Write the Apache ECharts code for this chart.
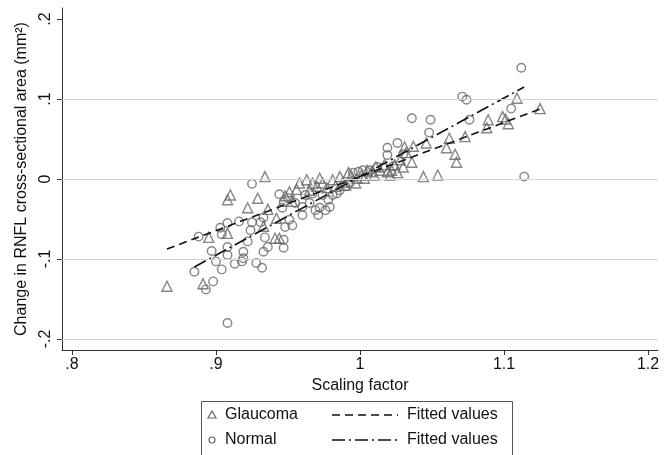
<!DOCTYPE html>
<html>
<head>
<meta charset="utf-8">
<script src="https://cdn.jsdelivr.net/npm/echarts@6/dist/echarts.min.js"></script>
<style>
  html, body { margin: 0; padding: 0; background: #fff; }
  #chart { width: 665px; height: 455px; }
</style>
</head>
<body>
<div id="chart"></div>
<script>
// Scaling factor vs change in RNFL cross-sectional area, by group
const xTicks = [0.8, 0.9, 1, 1.1, 1.2];
const yTicks = [-0.2, -0.1, 0, 0.1, 0.2];
const yGridLines = [-0.2, -0.1, 0, 0.1];

const glaucoma = [
  [0.866, -0.134], [0.891, -0.131], [0.895, -0.073], [0.908, -0.026], [0.910, -0.020],
  [0.908, -0.068], [0.922, -0.036], [0.929, -0.024], [0.934, 0.003], [0.936, -0.038],
  [0.933, -0.059], [0.941, -0.074], [0.944, -0.074], [0.942, -0.049], [0.951, -0.016],
  [0.958, -0.005], [0.963, -0.001], [0.967, -0.005], [0.970, -0.009], [0.974, -0.005],
  [0.956, -0.013], [0.948, -0.021], [0.953, -0.028], [0.977, -0.011], [0.981, -0.001],
  [0.983, -0.009], [0.986, 0.003], [0.988, -0.004], [0.992, 0.008], [0.994, 0.004],
  [0.998, 0.001], [1.001, 0.005], [1.005, 0.011], [1.008, 0.009], [1.011, 0.015],
  [1.014, 0.011], [1.017, 0.018], [1.019, 0.009], [1.021, 0.005], [1.022, 0.011],
  [1.026, 0.008], [1.028, 0.024], [1.030, 0.015], [1.031, 0.040], [1.032, 0.033],
  [1.036, 0.021], [1.037, 0.041], [1.044, 0.003], [1.046, 0.045], [1.054, 0.005],
  [1.060, 0.039], [1.062, 0.051], [1.066, 0.031], [1.067, 0.021], [1.073, 0.053],
  [1.088, 0.064], [1.089, 0.074], [1.099, 0.078], [1.101, 0.075], [1.103, 0.069],
  [1.109, 0.101], [1.125, 0.088], [0.965, -0.014], [0.972, 0.001], [0.990, -0.008],
  [0.997, -0.005], [1.003, 0.001], [1.010, 0.005], [1.024, 0.018]
];

const normal = [
  [0.908, -0.180], [0.885, -0.116], [0.893, -0.138], [0.898, -0.128], [0.897, -0.090],
  [0.900, -0.103], [0.904, -0.113], [0.888, -0.072], [0.903, -0.061], [0.908, -0.055],
  [0.904, -0.069], [0.908, -0.085], [0.908, -0.095], [0.916, -0.053], [0.913, -0.106],
  [0.918, -0.103], [0.919, -0.099], [0.922, -0.078], [0.919, -0.091], [0.925, -0.006],
  [0.924, -0.064], [0.925, -0.054], [0.934, -0.073], [0.936, -0.085], [0.933, -0.091],
  [0.928, -0.105], [0.932, -0.111], [0.931, -0.054], [0.933, -0.048], [0.947, -0.076],
  [0.947, -0.086], [0.948, -0.060], [0.953, -0.058], [0.951, -0.051], [0.960, -0.045],
  [0.944, -0.019], [0.947, -0.029], [0.946, -0.036], [0.955, -0.030], [0.960, -0.035],
  [0.965, -0.030], [0.969, -0.039], [0.972, -0.036], [0.976, -0.039], [0.962, -0.020],
  [0.950, -0.024], [0.967, -0.018], [0.974, -0.020], [0.978, -0.026], [0.981, -0.020],
  [0.984, -0.018], [0.986, -0.014], [0.990, -0.009], [0.993, -0.005], [0.995, 0.008],
  [0.999, 0.009], [1.002, 0.011], [1.007, 0.011], [1.012, 0.015], [1.016, 0.014],
  [1.023, 0.016], [1.019, 0.030], [1.019, 0.039], [1.026, 0.045], [1.030, 0.031],
  [1.036, 0.076], [1.049, 0.074], [1.048, 0.058], [1.071, 0.103], [1.074, 0.099],
  [1.076, 0.074], [1.105, 0.088], [1.112, 0.139], [1.114, 0.003], [0.979, -0.035],
  [0.971, -0.045]
];

// Linear fits, evaluated at each group's x range
const glaucomaFit = [[0.866, -0.0875], [1.125, 0.0875]];
const normalFit = [[0.885, -0.110], [1.114, 0.115]];

const FONT = '"Liberation Sans", Arial, Helvetica, sans-serif';
const MARK = '#686868';
const fmt = v => (v === 0 ? '0' : String(v).replace('0.', '.'));

const chart = echarts.init(document.getElementById('chart'), null, { renderer: 'canvas' });

chart.setOption({
  backgroundColor: '#ffffff',
  animation: false,
  grid: { left: 62, right: 7, top: 8, bottom: 105, containLabel: false },
  xAxis: {
    type: 'value',
    min: 0.7931, max: 1.2069,
    name: 'Scaling factor',
    nameLocation: 'middle',
    nameGap: 27,
    nameTextStyle: { fontFamily: FONT, fontSize: 16, color: '#111' },
    axisLine: { show: true, onZero: false, lineStyle: { color: '#333', width: 1 } },
    axisTick: { show: true, length: 5, customValues: xTicks, lineStyle: { color: '#333' } },
    axisLabel: { customValues: xTicks, formatter: fmt, margin: 7, fontFamily: FONT, fontSize: 16, color: '#111' },
    splitLine: { show: false }
  },
  yAxis: {
    type: 'value',
    min: -0.21375, max: 0.21375,
    name: 'Change in RNFL cross-sectional area (mm\u00B2)',
    nameLocation: 'middle',
    nameRotate: 90,
    nameGap: 32,
    nameTextStyle: { fontFamily: FONT, fontSize: 16, color: '#111' },
    axisLine: { show: true, onZero: false, lineStyle: { color: '#333', width: 1 } },
    axisTick: { show: true, length: 5, customValues: yTicks, lineStyle: { color: '#333' } },
    axisLabel: { customValues: yTicks, formatter: fmt, rotate: 90, margin: 8, fontFamily: FONT, fontSize: 16, color: '#111' },
    splitLine: { show: false }
  },
  series: [
    {
      name: 'grid',
      type: 'line',
      data: [],
      silent: true,
      z: 1,
      markLine: {
        silent: true,
        symbol: ['none', 'none'],
        label: { show: false },
        lineStyle: { color: '#d6d6d6', width: 1, type: 'solid' },
        emphasis: { disabled: true },
        data: yGridLines.map(v => ({ yAxis: v }))
      }
    },
    {
      name: 'Glaucoma',
      type: 'scatter',
      symbol: 'triangle',
      symbolSize: 10,
      z: 3,
      itemStyle: { color: 'rgba(0,0,0,0)', borderColor: MARK, borderWidth: 1.4 },
      data: glaucoma
    },
    {
      name: 'Normal',
      type: 'scatter',
      symbol: 'circle',
      symbolSize: 8.5,
      z: 3,
      itemStyle: { color: 'rgba(0,0,0,0)', borderColor: MARK, borderWidth: 1.4 },
      data: normal
    },
    {
      name: 'Fitted values (Glaucoma)',
      type: 'line',
      showSymbol: false,
      z: 4,
      lineStyle: { color: '#111', width: 1.6, type: [8, 5] },
      data: glaucomaFit
    },
    {
      name: 'Fitted values (Normal)',
      type: 'line',
      showSymbol: false,
      z: 4,
      lineStyle: { color: '#111', width: 1.6, type: [13, 4, 2, 4] },
      data: normalFit
    }
  ],
  graphic: [
    {
      type: 'rect',
      shape: { x: 201.5, y: 401.5, width: 311, height: 70 },
      style: { fill: 'none', stroke: '#555', lineWidth: 1 }
    },
    {
      type: 'polygon',
      shape: { points: [[212, 411], [216, 418], [208, 418]] },
      style: { fill: 'none', stroke: MARK, lineWidth: 1.2 }
    },
    {
      type: 'circle',
      shape: { cx: 212, cy: 440, r: 3 },
      style: { fill: 'none', stroke: MARK, lineWidth: 1.2 }
    },
    {
      type: 'line',
      shape: { x1: 332, y1: 415, x2: 398, y2: 415 },
      style: { stroke: '#111', lineWidth: 1.6, lineDash: [8, 5] }
    },
    {
      type: 'line',
      shape: { x1: 332, y1: 440, x2: 398, y2: 440 },
      style: { stroke: '#111', lineWidth: 1.6, lineDash: [13, 4, 2, 4] }
    },
    { type: 'text', x: 225, y: 415, style: { text: 'Glaucoma', font: '16px ' + FONT, fill: '#111', verticalAlign: 'middle' } },
    { type: 'text', x: 225, y: 440, style: { text: 'Normal', font: '16px ' + FONT, fill: '#111', verticalAlign: 'middle' } },
    { type: 'text', x: 407, y: 415, style: { text: 'Fitted values', font: '16px ' + FONT, fill: '#111', verticalAlign: 'middle' } },
    { type: 'text', x: 407, y: 440, style: { text: 'Fitted values', font: '16px ' + FONT, fill: '#111', verticalAlign: 'middle' } }
  ]
});
</script>
</body>
</html>
